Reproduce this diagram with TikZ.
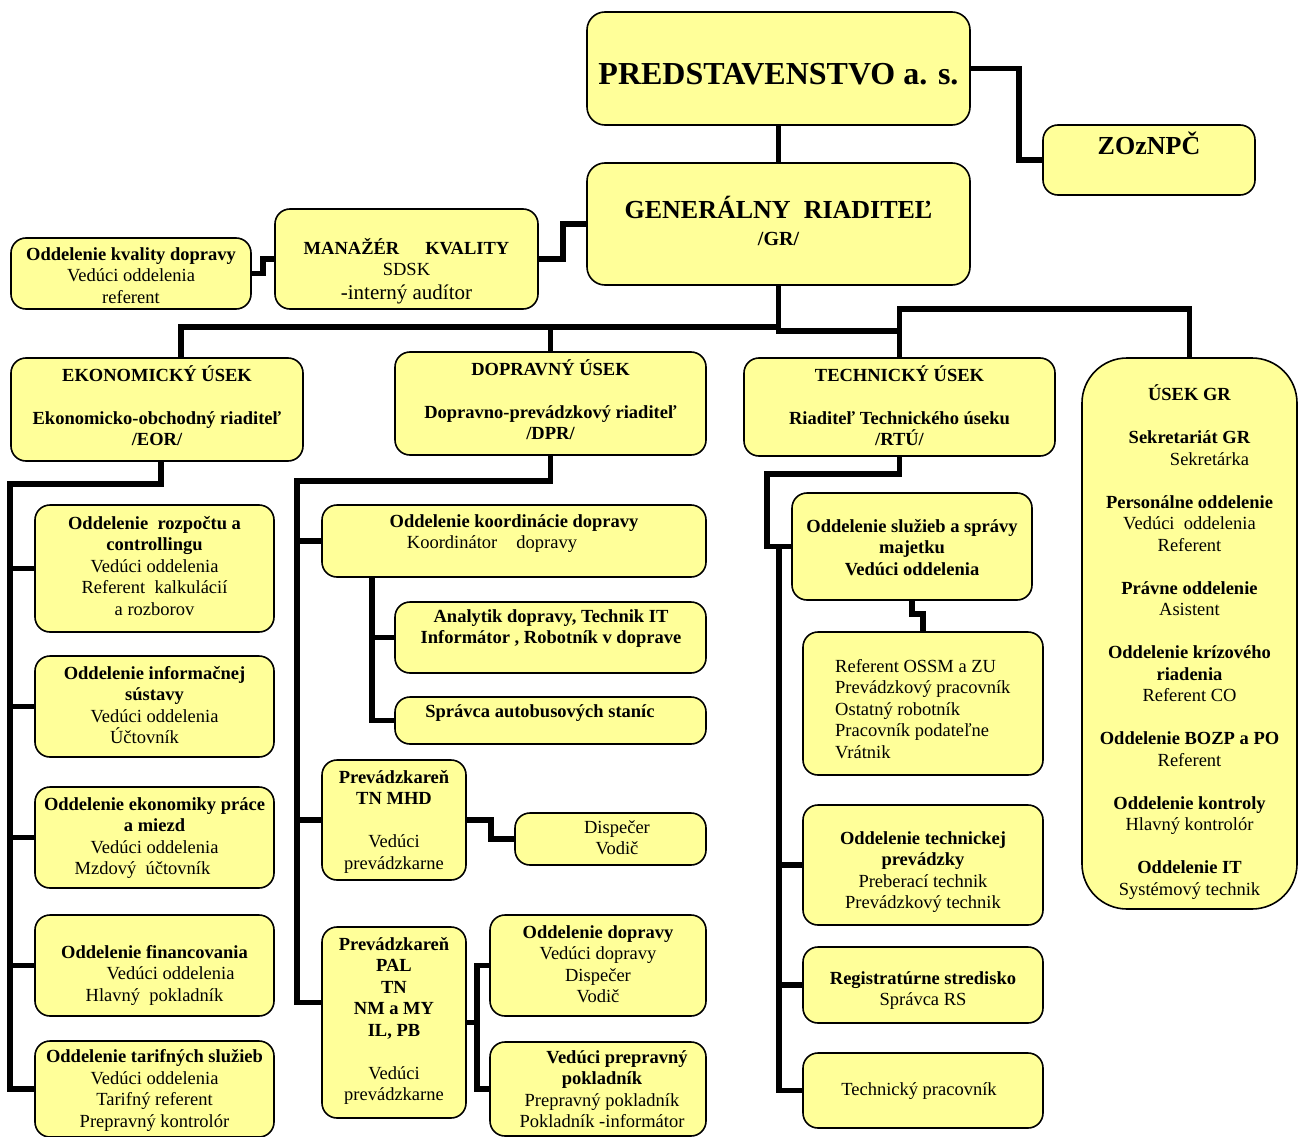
\documentclass[tikz,border=0pt]{standalone}
\usepackage{fontspec}
\setmainfont{Liberation Serif}
\definecolor{boxyellow}{RGB}{255,255,153}
\newcommand\mybody{\fontsize{18.5}{21.5}\selectfont}
\tikzset{
  box/.style={draw=black, line width=1.6pt, fill=boxyellow, rounded corners=15pt, inner sep=0pt},
  conn/.style={line width=5.5pt},
  txt/.style={inner sep=0pt, align=center, anchor=base, font=\mybody},
  txtb/.style={txt, font=\mybody\bfseries},
}
\newcommand\mybox[6][]{%
  \pgfmathsetmacro\bxw{#5-#3}\pgfmathsetmacro\bxh{#6-#4}%
  \pgfmathsetmacro\bxx{(#3+#5)/2}\pgfmathsetmacro\bxy{(#4+#6)/2}%
  \node[box,minimum width=\bxw pt,minimum height=\bxh pt,#1] (#2) at (\bxx,\bxy) {};}
\begin{document}
\begin{tikzpicture}[x=1pt,y=-1pt]
\useasboundingbox (0,0) rectangle (1304,1137);
% ---------- boxes ----------
\mybox[rounded corners=18pt]{pred}{587}{12}{970}{125}
\mybox{zoz}{1043}{125}{1255}{195}
\mybox[rounded corners=18pt]{gr}{587}{163}{970}{285}
\mybox{mk}{275}{209}{538}{309}
\mybox{okd}{11}{238}{251}{309}
\mybox{eor}{11}{358}{303}{461}
\mybox{dpr}{395}{352}{706}{455}
\mybox{rtu}{744}{358}{1055}{456}
\mybox[rounded corners=45pt]{usek}{1082}{358}{1297}{909}
\mybox{e1}{35}{505}{274}{632}
\mybox{e2}{35}{656}{274}{757}
\mybox{e3}{35}{787}{274}{888}
\mybox{e4}{35}{915}{274}{1016}
\mybox{e5}{35}{1041}{274}{1137}
\mybox{koord}{322}{505}{706}{577}
\mybox{ana}{395}{602}{706}{673}
\mybox{spr}{395}{697}{706}{744}
\mybox{mhd}{322}{760}{466}{880}
\mybox{disp}{515}{813}{706}{865}
\mybox{pal}{322}{927}{466}{1118}
\mybox{odd}{490}{915}{706}{1016}
\mybox{vpp}{490}{1042}{706}{1136}
\mybox{sluz}{792}{493}{1032}{600}
\mybox{ref}{803}{632}{1043}{775}
\mybox{otp}{803}{805}{1043}{925}
\mybox{reg}{803}{947}{1043}{1023}
\mybox{tp}{803}{1053}{1043}{1128}
% ---------- texts (y = baseline of the LAST line) ----------
\node[txt,font=\fontsize{32}{36}\selectfont\bfseries] (pred-t) at (778.5,85) {PREDSTAVENSTVO a. s.};
\node[txt,font=\fontsize{26}{30}\selectfont\bfseries] (zoz-t) at (1149,155) {ZOzNPČ};
\node[txt,font=\fontsize{26}{30}\selectfont\bfseries] (gr-t1) at (778.5,218) {GENERÁLNY\ \ RIADITEĽ};
\node[txt,font=\fontsize{20}{24}\selectfont\bfseries] (gr-t2) at (778.5,245) {/GR/};
\node[txt] (mk-t1) at (406.5,275.5) {\textbf{MANAŽÉR\hspace{26pt}KVALITY}\\SDSK};
\node[txt,font=\fontsize{21}{25}\selectfont] (mk-t2) at (406.5,299) {-interný audítor};
\node[txt] (okd-t) at (131,303) {\textbf{Oddelenie kvality dopravy}\\Vedúci oddelenia\\referent};
\node[txtb] (eor-t) at (157,445.5) {EKONOMICKÝ ÚSEK\\[21.5pt]Ekonomicko-obchodný riaditeľ\\/EOR/};
\node[txtb] (dpr-t) at (550.5,439.5) {DOPRAVNÝ ÚSEK\\[21.5pt]Dopravno-prevádzkový riaditeľ\\/DPR/};
\node[txtb] (rtu-t) at (899.5,445.5) {TECHNICKÝ ÚSEK\\[21.5pt]Riaditeľ Technického úseku\\/RTÚ/};
\node[txt] (usek-t) at (1189.5,895) {\textbf{ÚSEK GR}\\[21.5pt]\textbf{Sekretariát GR}\\\hspace*{40pt}Sekretárka\\[21.5pt]\textbf{Personálne oddelenie}\\Vedúci\ \ oddelenia\\Referent\\[21.5pt]\textbf{Právne oddelenie}\\Asistent\\[21.5pt]\textbf{Oddelenie krízového}\\\textbf{riadenia}\\Referent CO\\[21.5pt]\textbf{Oddelenie BOZP a PO}\\Referent\\[21.5pt]\textbf{Oddelenie kontroly}\\Hlavný kontrolór\\[21.5pt]\textbf{Oddelenie IT}\\Systémový technik};
\node[txt] (e1-t) at (154.5,615) {\textbf{Oddelenie\ \ rozpočtu a}\\\textbf{controllingu}\\Vedúci oddelenia\\Referent\ \ kalkulácií\hspace*{12pt}\\a rozborov};
\node[txt] (e2-t) at (154.5,743.5) {\textbf{Oddelenie informačnej}\\\textbf{sústavy}\\Vedúci oddelenia\\Účtovník\hspace*{20pt}};
\node[txt] (e3-t) at (154.5,874.5) {\textbf{Oddelenie ekonomiky práce}\\\textbf{a miezd}\\Vedúci oddelenia\\Mzdový\ \ účtovník\hspace*{24pt}};
\node[txt] (e4-t) at (154.5,1001) {\textbf{Oddelenie financovania}\\\hspace*{32pt}Vedúci oddelenia\\Hlavný\ \ pokladník};
\node[txt] (e5-t) at (154.5,1127) {\textbf{Oddelenie tarifných služieb}\\Vedúci oddelenia\\Tarifný referent\\Prepravný kontrolór};
\node[txt] (koord-t) at (514,548.5) {\textbf{Oddelenie koordinácie dopravy}\\Koordinátor\hspace{19pt}dopravy\hspace*{44pt}};
\node[txtb] (ana-t) at (551,643.5) {Analytik dopravy, Technik IT\\Informátor , Robotník v doprave};
\node[txtb] (spr-t) at (540,717) {Správca autobusových staníc};
\node[txt] (mhd-t) at (394,869) {\textbf{Prevádzkareň}\\\textbf{TN MHD}\\[21.5pt]Vedúci\\prevádzkarne};
\node[txt] (disp-t) at (617,854.5) {Dispečer\\Vodič};
\node[txt] (pal-t) at (394,1100.5) {\textbf{Prevádzkareň}\\\textbf{PAL}\\\textbf{TN}\\\textbf{NM a MY}\\\textbf{IL, PB}\\[21.5pt]Vedúci\\prevádzkarne};
\node[txt] (odd-t) at (598,1002.5) {\textbf{Oddelenie dopravy}\\Vedúci dopravy\\Dispečer\\Vodič};
\node[txt] (vpp-t) at (602,1127.5) {\textbf{\hspace*{30pt}Vedúci prepravný}\\\textbf{pokladník}\\Prepravný pokladník\\Pokladník -informátor};
\node[txtb] (sluz-t) at (912,575) {Oddelenie služieb a správy\\majetku\\Vedúci oddelenia};
\node[txt,align=left,anchor=base west] (ref-t) at (835,758) {Referent OSSM a ZU\\Prevádzkový pracovník\\Ostatný robotník\\Pracovník podateľne\\Vrátnik};
\node[txt] (otp-t) at (923,908.5) {\textbf{Oddelenie technickej}\\\textbf{prevádzky}\\Preberací technik\\Prevádzkový technik};
\node[txt] (reg-t) at (923,1005.5) {\textbf{Registratúrne stredisko}\\Správca RS};
\node[txt] (tp-t) at (919,1095) {Technický pracovník};
% ---------- connectors ----------
\draw[conn] (pred.south) -- (gr.north);
\draw[conn] (pred.east) -- ++(48,0) |- (zoz.west);
\draw[conn] (mk.east) -- ++(24,0) |- (gr.west);
\draw[conn] (okd.east) -- ++(11,0) |- (mk.west);
\draw[conn] ([xshift=24pt]eor.north) -- ++(0,-30) -| (gr.south);
\draw[conn] (dpr.north) -- ++(0,-24);
\draw[conn] (gr.south) |- ([yshift=26pt]rtu.north);
\draw[conn] (rtu.north) -- ++(0,-48) -| (usek.north);
% economic branch
\draw[conn] ([xshift=4pt]eor.south) -- ++(0,22) -| ([xshift=-24pt]e5.west) -- (e5.west);
\foreach \n in {e1,e2,e3,e4} \draw[conn] (\n.west) -- ++(-24,0);
% transport branch
\draw[conn] (dpr.south) -- ++(0,25) -| ([xshift=-24pt,yshift=20pt]pal.west) -- ([yshift=20pt]pal.west);
\draw[conn] (koord.west) -- ++(-24,0);
\draw[conn] (mhd.west) -- ++(-24,0);
\draw[conn] ([xshift=-142pt]koord.south) |- (spr.west);
\draw[conn] (ana.west) -- ++(-23,0);
\draw[conn] (mhd.east) -- ++(24,0) |- (disp.west);
\draw[conn] (odd.west) -- ++(-12,0) |- (vpp.west);
\draw[conn] (pal.east) -- ++(12,0);
% technical branch
\draw[conn] (rtu.south) -- ++(0,17) -| ([xshift=-24pt]sluz.west) -- (sluz.west);
\draw[conn] ([xshift=-12pt]sluz.west) |- (tp.west);
\draw[conn] (otp.west) -- ++(-23,0);
\draw[conn] (reg.west) -- ++(-23,0);
\draw[conn] (sluz.south) -- ++(0,13) -| (ref.north);
\end{tikzpicture}
\end{document}
